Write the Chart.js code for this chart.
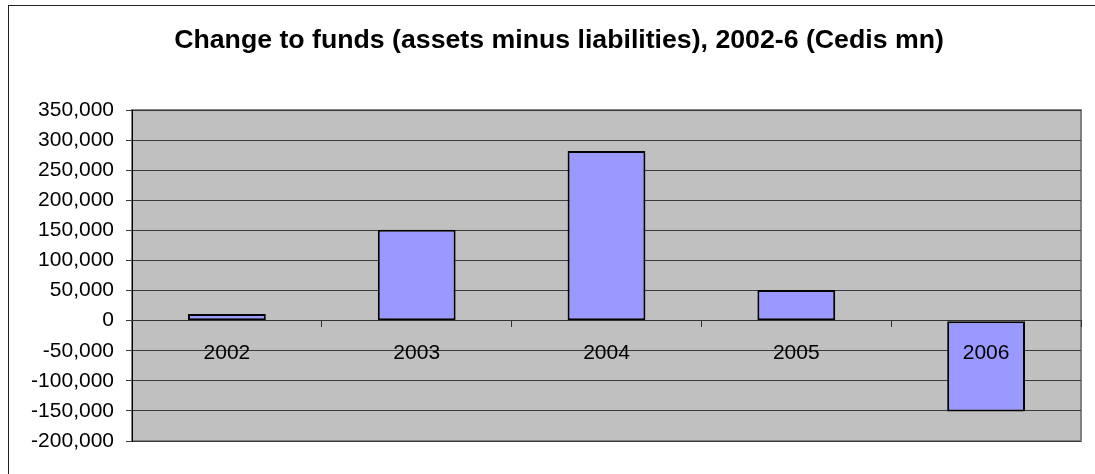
<!DOCTYPE html>
<html>
<head>
<meta charset="utf-8">
<script src="https://cdn.jsdelivr.net/npm/chart.js@4"></script>
<style>
  html, body { margin: 0; padding: 0; background: #fff; }
  #wrap { position: relative; width: 1095px; height: 474px; }
</style>
</head>
<body>
<div id="wrap"><canvas id="myChart"></canvas></div>
<script>
const years = ['2002', '2003', '2004', '2005', '2006'];
const fundChange = [11000, 151000, 282000, 51000, -151000];
const yMin = -200000;
const yMax = 350000;
const yStep = 50000;

// grey plot area + outer frame, like the old spreadsheet chart
const frame = {
    id: 'frame',
    afterLayout(chart) {
        // title sits a bit right of the canvas centre in the original
        if (chart.titleBlock) chart.titleBlock.left += 27;
    },
    beforeDraw(chart) {
        const c = chart.ctx;
        const a = chart.chartArea;
        c.save();
        c.strokeStyle = '#222';
        c.lineWidth = 1;
        c.strokeRect(8.5, 5.5, 1200, 600);
        c.fillStyle = '#c0c0c0';
        c.fillRect(a.left, a.top, a.right - a.left, a.bottom - a.top);
        c.strokeStyle = '#808080';
        c.lineWidth = 2;
        c.strokeRect(a.left, a.top, a.right - a.left, a.bottom - a.top);
        c.restore();
    }
};

const ctx = document.getElementById('myChart').getContext('2d');
const myChart = new Chart(ctx, {
    type: 'bar',
    data: {
        labels: years,
        datasets: [{
            label: 'Change to funds',
            data: fundChange,
            backgroundColor: '#9999ff',
            borderColor: '#000',
            borderWidth: 2,
            borderSkipped: false,
            categoryPercentage: 1,
            barPercentage: 0.41
        }]
    },
    options: {
        responsive: true,
        maintainAspectRatio: false,
        animation: false,
        layout: { padding: { left: 10, right: 14, top: 5, bottom: 33 } },
        plugins: {
            legend: { display: false },
            tooltip: { enabled: false },
            title: {
                display: true,
                text: 'Change to funds (assets minus liabilities), 2002-6 (Cedis mn)',
                color: '#000',
                font: { family: 'Liberation Sans, Arial, sans-serif', size: 26.7, weight: 'bold' },
                padding: { top: 20, bottom: 53 }
            }
        },
        scales: {
            x: {
                position: { y: 0 },
                grid: {
                    offset: true,
                    drawOnChartArea: false,
                    drawTicks: true,
                    tickLength: 6,
                    color: '#333'
                },
                border: { display: true, color: '#333', z: 1 },
                ticks: {
                    z: 1,
                    color: '#000',
                    maxRotation: 0,
                    padding: 14,
                    font: { family: 'Liberation Sans, Arial, sans-serif', size: 21 }
                }
            },
            y: {
                min: yMin,
                max: yMax,
                afterFit(scale) { scale.width = 122; },
                grid: { color: '#3a3a3a', tickLength: 6 },
                border: { display: true, color: '#000' },
                ticks: {
                    stepSize: yStep,
                    color: '#000',
                    padding: 12,
                    font: { family: 'Liberation Sans, Arial, sans-serif', size: 21 },
                    callback: (v) => v.toLocaleString('en-US')
                }
            }
        }
    },
    plugins: [frame]
});
</script>
</body>
</html>
